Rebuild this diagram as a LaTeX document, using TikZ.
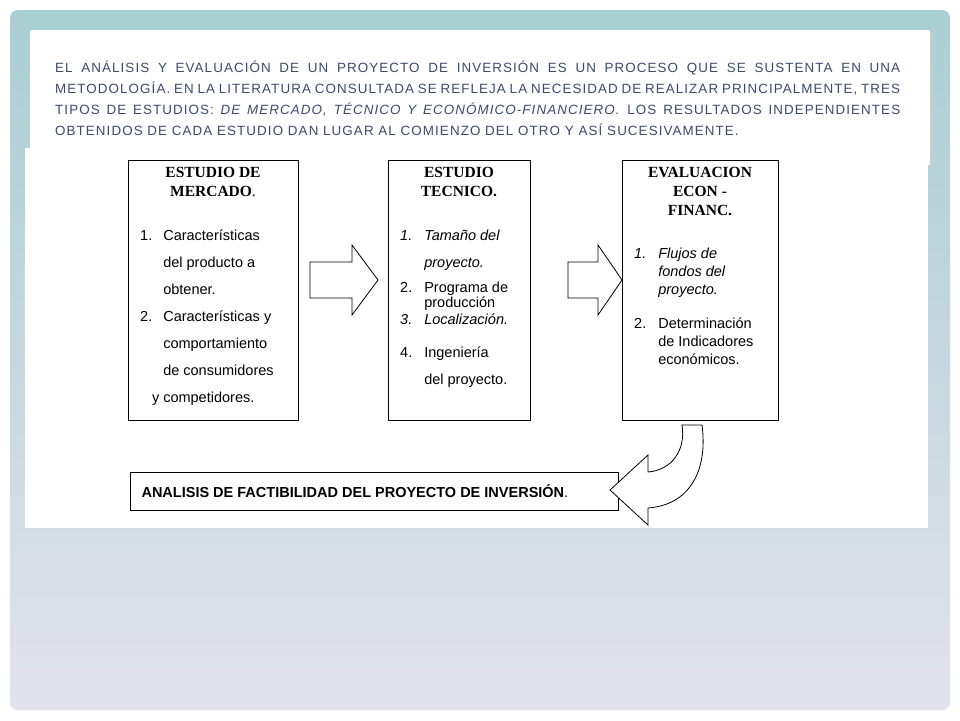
\documentclass[tikz,border=0pt]{standalone}
\usepackage{fontspec}
\setmainfont{Liberation Sans}
\newfontfamily\titlefont{Liberation Serif}
\newfontfamily\headfont[LetterSpace=8]{Liberation Sans}
\definecolor{bgtop}{HTML}{A9CFD2}
\definecolor{bgbot}{HTML}{E2E1EC}
\definecolor{headcol}{HTML}{3C4A6C}
\tikzset{
  stage/.style={draw, line width=1.2pt, anchor=north west, inner sep=0pt},
  boxtitle/.style={font=\titlefont\bfseries\fontsize{15.5}{19}\selectfont, align=center, anchor=north},
  boxlist/.style={font=\fontsize{14.5}{18}\selectfont, align=left, anchor=north west, inner sep=0pt},
  blockarrow/.style={draw, line width=0.8pt, fill=white}
}
\begin{document}
\begin{tikzpicture}[x=1pt,y=-1pt]
  \useasboundingbox (0,0) rectangle (960,720);
  % fondo
  \shade[top color=bgtop, bottom color=bgbot, rounded corners=8pt] (10,10) rectangle (950,710);
  \fill[black!20] (32,32) rectangle (932,167);
  \fill[white] (30,30) rectangle (930,165);
  \fill[white] (25,148) rectangle (928,528);

  % texto de cabecera
  \node[anchor=north west, text width=845pt, align=justify, inner sep=0pt, text=headcol,
        font=\headfont\fontsize{13.4}{21}\selectfont] (intro) at (55,61)
  {EL ANÁLISIS Y EVALUACIÓN DE UN PROYECTO DE INVERSIÓN ES UN PROCESO QUE SE SUSTENTA EN UNA METODOLOGÍA. EN LA LITERATURA CONSULTADA SE REFLEJA LA NECESIDAD DE REALIZAR PRINCIPALMENTE, TRES TIPOS DE ESTUDIOS: \textit{DE MERCADO, TÉCNICO Y ECONÓMICO-FINANCIERO.} LOS RESULTADOS INDEPENDIENTES OBTENIDOS DE CADA ESTUDIO DAN LUGAR AL COMIENZO DEL OTRO Y ASÍ SUCESIVAMENTE.};

  % cajas
  \node[stage, minimum width=170pt, minimum height=260pt] (mercado) at (128,160) {};
  \node[stage, minimum width=142pt, minimum height=260pt] (tecnico) at (388,160) {};
  \node[stage, minimum width=156pt, minimum height=260pt] (evalua) at (622,160) {};
  \node[stage, minimum width=488pt, minimum height=38pt] (factib) at (130,472) {};

  % titulos
  \node[boxtitle] (t1) at (213,164) {ESTUDIO DE\\MERCADO\textmd{.}};
  \node[boxtitle] (t2) at (459,164) {ESTUDIO\\TECNICO.};
  \node[boxtitle] (t3) at (700,164) {EVALUACION\\ECON -\\FINANC.};

  % listas
  \node[boxlist] (l1) at (140,228) {\begin{tabular}{@{}l@{\hspace{11pt}}l@{}}
    1. & Características\\[9pt] & del producto a\\[9pt] & obtener.\\[9pt]
    2. & Características y\\[9pt] & comportamiento\\[9pt] & de consumidores\\[9pt] & \llap{y }competidores.\end{tabular}};
  \node[boxlist] (l2) at (400,228) {\begin{tabular}{@{}l@{\hspace{12pt}}l@{}}
    \textit{1.} & \textit{Tamaño del}\\[9pt] & \textit{proyecto.}\\[7pt]
    2. & Programa de\\[-3pt] & producción\\[-1pt]
    \textit{3.} & \textit{Localización.}\\[15pt]
    4. & Ingeniería\\[9pt] & del proyecto.\end{tabular}};
  \node[boxlist] (l3) at (634,246) {\begin{tabular}{@{}l@{\hspace{12pt}}l@{}}
    \textit{1.} & \textit{Flujos de}\\ & \textit{fondos del}\\ & \textit{proyecto.}\\[16pt]
    2. & Determinación\\ & de Indicadores\\ & económicos.\end{tabular}};
  \node[anchor=west, font=\bfseries\fontsize{14.5}{16}\selectfont] (t4) at (138,491)
    {ANALISIS DE FACTIBILIDAD DEL PROYECTO DE INVERSIÓN\textmd{.}};

  % flechas de bloque
  \draw[blockarrow] (310,262) -- (352,262) -- (352,245) -- (378,280) -- (352,315)
    -- (352,298) -- (310,298) -- cycle;
  \draw[blockarrow] (568,262) -- (598,262) -- (598,245) -- (622,280) -- (598,315)
    -- (598,298) -- (568,298) -- cycle;
  \draw[blockarrow] (702,425) .. controls (708,470) and (690,505) .. (648,508)
    -- (648,525) -- (610,490) -- (648,455) -- (648,472)
    .. controls (672,470) and (686,450) .. (682,425) -- cycle;
\end{tikzpicture}
\end{document}
